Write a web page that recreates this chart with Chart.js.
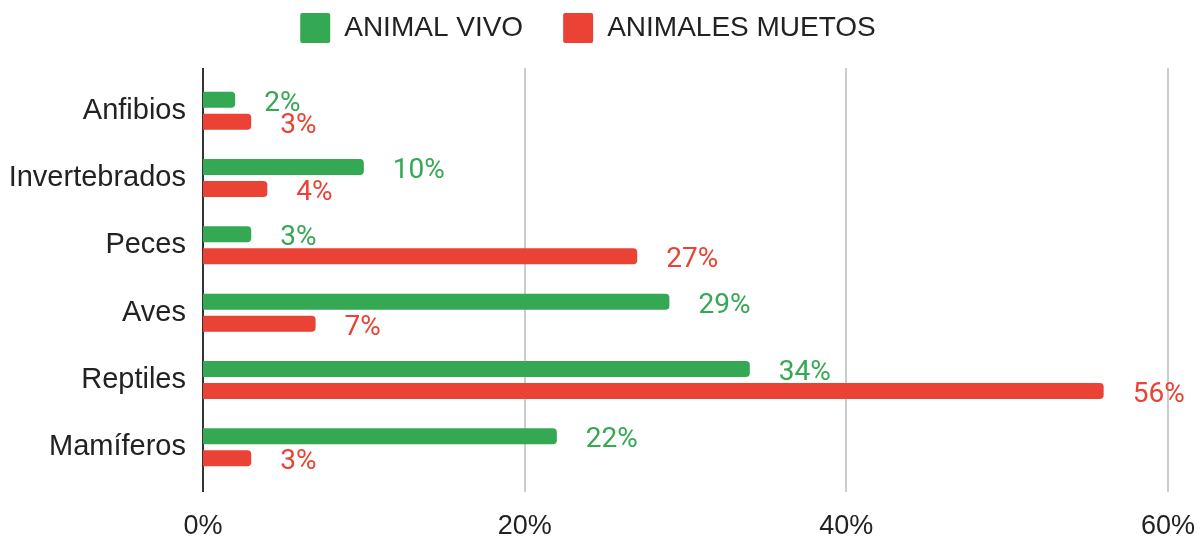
<!DOCTYPE html>
<html>
<head>
<meta charset="utf-8">
<script src="https://cdn.jsdelivr.net/npm/chart.js@4.4.1/dist/chart.umd.min.js"></script>
<style>
  html, body { margin: 0; padding: 0; background: #fff; }
  #wrap { width: 1201px; height: 537px; position: relative; }
</style>
</head>
<body>
<div id="wrap"><canvas id="chart"></canvas></div>
<script>
// data
const categories = ['Anfibios', 'Invertebrados', 'Peces', 'Aves', 'Reptiles', 'Mamíferos'];
const vivos = [2, 10, 3, 29, 34, 22];
const muertos = [3, 4, 27, 7, 56, 3];
const seriesNames = ['ANIMAL VIVO', 'ANIMALES MUETOS'];
const xTicks = [0, 20, 40, 60];

const GREEN = '#34a853';
const RED = '#ea4335';

// gridlines run a bit past the plot area, like the original
const gridPlugin = {
  id: 'gridLines',
  beforeDatasetsDraw(chart) {
    const { ctx, chartArea: a, scales: { x } } = chart;
    ctx.save();
    xTicks.forEach(v => {
      const px = Math.round(x.getPixelForValue(v));
      ctx.beginPath();
      ctx.strokeStyle = v === 0 ? '#333333' : '#cccccc';
      ctx.lineWidth = 2;
      ctx.moveTo(px, a.top - 9);
      ctx.lineTo(px, a.bottom + 11);
      ctx.stroke();
    });
    ctx.restore();
  }
};

// value labels right of each bar
const valueLabels = {
  id: 'valueLabels',
  afterDatasetsDraw(chart) {
    const { ctx } = chart;
    ctx.save();
    ctx.font = '28px Roboto';
    ctx.textAlign = 'left';
    ctx.textBaseline = 'middle';
    chart.data.datasets.forEach((ds, i) => {
      chart.getDatasetMeta(i).data.forEach((bar, j) => {
        ctx.fillStyle = ds.backgroundColor;
        ctx.fillText(ds.data[j] + '%', bar.x + 29, bar.y + 4);
      });
    });
    ctx.restore();
  }
};

// extra room under the legend
const legendGap = {
  id: 'legendGap',
  beforeInit(chart) {
    const fit = chart.legend.fit;
    chart.legend.fit = function () {
      fit.bind(chart.legend)();
      this.height += 24;
    };
  }
};

new Chart(document.getElementById('chart'), {
  type: 'bar',
  data: {
    labels: categories,
    datasets: [
      { label: seriesNames[0], data: vivos, backgroundColor: GREEN },
      { label: seriesNames[1], data: muertos, backgroundColor: RED }
    ]
  },
  options: {
    indexAxis: 'y',
    responsive: true, maintainAspectRatio: false,
    animation: false,
    layout: { padding: { left: 8, right: 33, top: -27, bottom: 0 } },
    datasets: {
      bar: {
        categoryPercentage: 0.655, barPercentage: 0.727,
        borderRadius: 4, borderSkipped: 'start'
      }
    },
    plugins: {
      legend: {
        position: 'top',
        labels: {
          boxWidth: 30, boxHeight: 30, padding: 40,
          color: '#222222',
          font: { family: 'Liberation Sans', size: 28 },
          useBorderRadius: true, borderRadius: 2
        }
      },
      tooltip: { enabled: false }
    },
    scales: {
      x: {
        min: 0, max: 60,
        afterFit: s => { s.height = 56; },
        afterBuildTicks: s => { s.ticks = xTicks.map(v => ({ value: v })); },
        grid: { display: false, drawTicks: true, tickLength: 25 },
        border: { display: false },
        ticks: {
          padding: 4, color: '#222222',
          font: { family: 'Liberation Sans', size: 27 },
          callback: v => v + '%'
        }
      },
      y: {
        afterFit: s => { s.width = 195; },
        grid: { display: false, drawTicks: false },
        border: { display: false },
        ticks: {
          padding: 17, color: '#222222',
          font: { family: 'Liberation Sans', size: 29 }
        }
      }
    }
  },
  plugins: [gridPlugin, valueLabels, legendGap]
});
</script>
</body>
</html>
